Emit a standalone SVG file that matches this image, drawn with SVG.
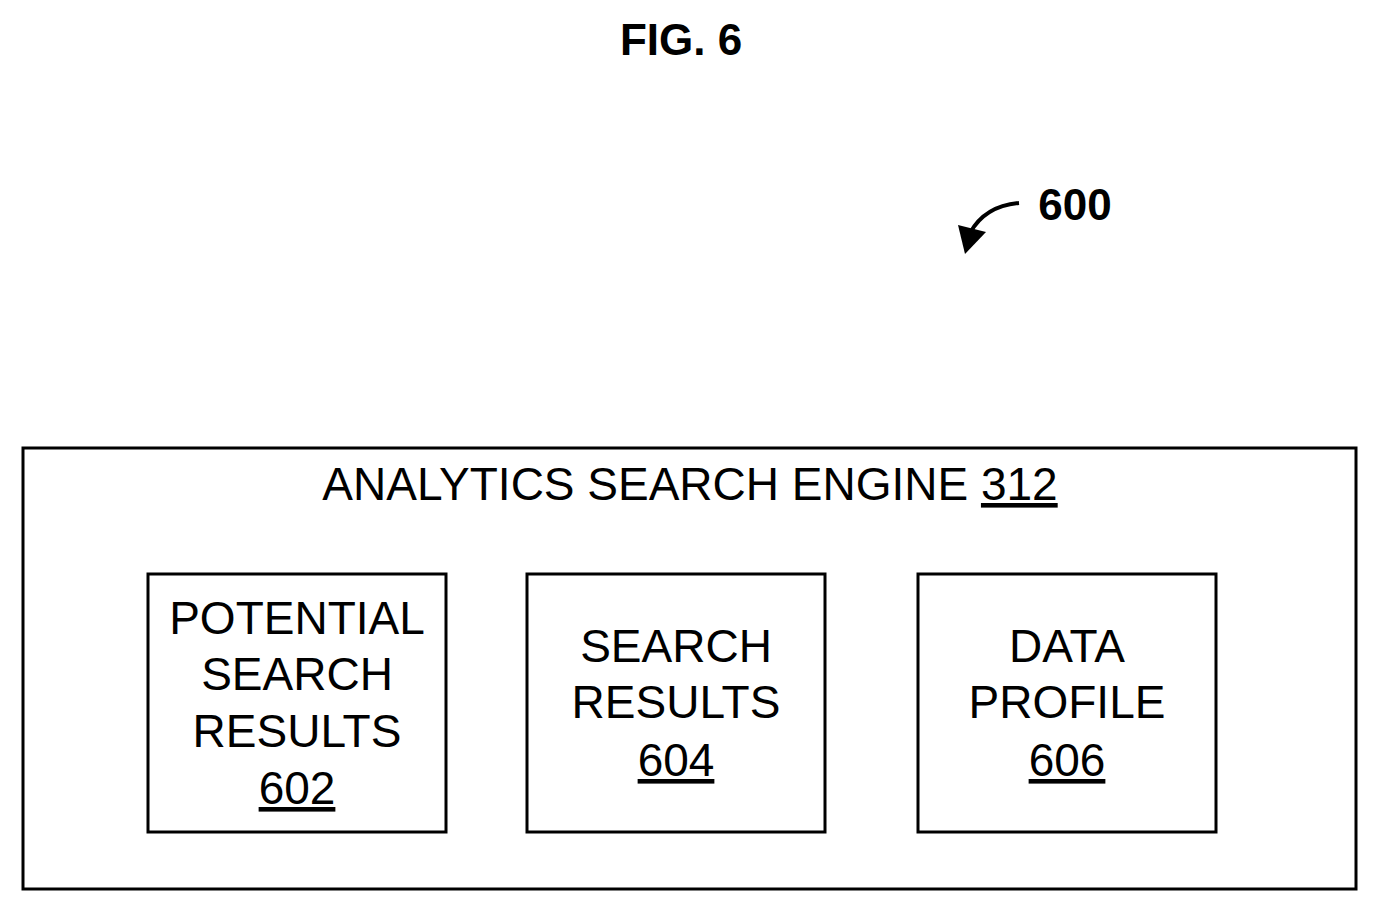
<svg xmlns="http://www.w3.org/2000/svg" width="1378" height="912" viewBox="0 0 1378 912">
<style>
.box{fill:#fff;stroke:#000;stroke-width:3}
.t{font-family:"Liberation Sans",Arial,sans-serif;font-size:46px;text-anchor:middle;fill:#000}
.b{font-family:"Liberation Sans",Arial,sans-serif;font-weight:bold;font-size:44px;text-anchor:middle;fill:#000}
</style>
<rect width="1378" height="912" fill="#fff"/>
<text class="b" x="681" y="55">FIG. 6</text>
<text class="b" x="1075" y="220">600</text>
<g id="connectors">
<path d="M1019,203 Q985,206 970,233" fill="none" stroke="#000" stroke-width="4"/>
<polygon points="958,225 986,232 965,254" fill="#000"/>
</g>
<g id="n312">
<rect class="box" x="23" y="448" width="1333" height="441"/>
<text class="t" x="690" y="500">ANALYTICS SEARCH ENGINE <tspan text-decoration="underline">312</tspan></text>
</g>
<g id="n602">
<rect class="box" x="148" y="574" width="298" height="258"/>
<text class="t" x="297" y="634">POTENTIAL</text>
<text class="t" x="297" y="690">SEARCH</text>
<text class="t" x="297" y="747">RESULTS</text>
<text class="t" x="297" y="804" text-decoration="underline">602</text>
</g>
<g id="n604">
<rect class="box" x="527" y="574" width="298" height="258"/>
<text class="t" x="676" y="662">SEARCH</text>
<text class="t" x="676" y="718">RESULTS</text>
<text class="t" x="676" y="776" text-decoration="underline">604</text>
</g>
<g id="n606">
<rect class="box" x="918" y="574" width="298" height="258"/>
<text class="t" x="1067" y="662">DATA</text>
<text class="t" x="1067" y="718">PROFILE</text>
<text class="t" x="1067" y="776" text-decoration="underline">606</text>
</g>
</svg>
